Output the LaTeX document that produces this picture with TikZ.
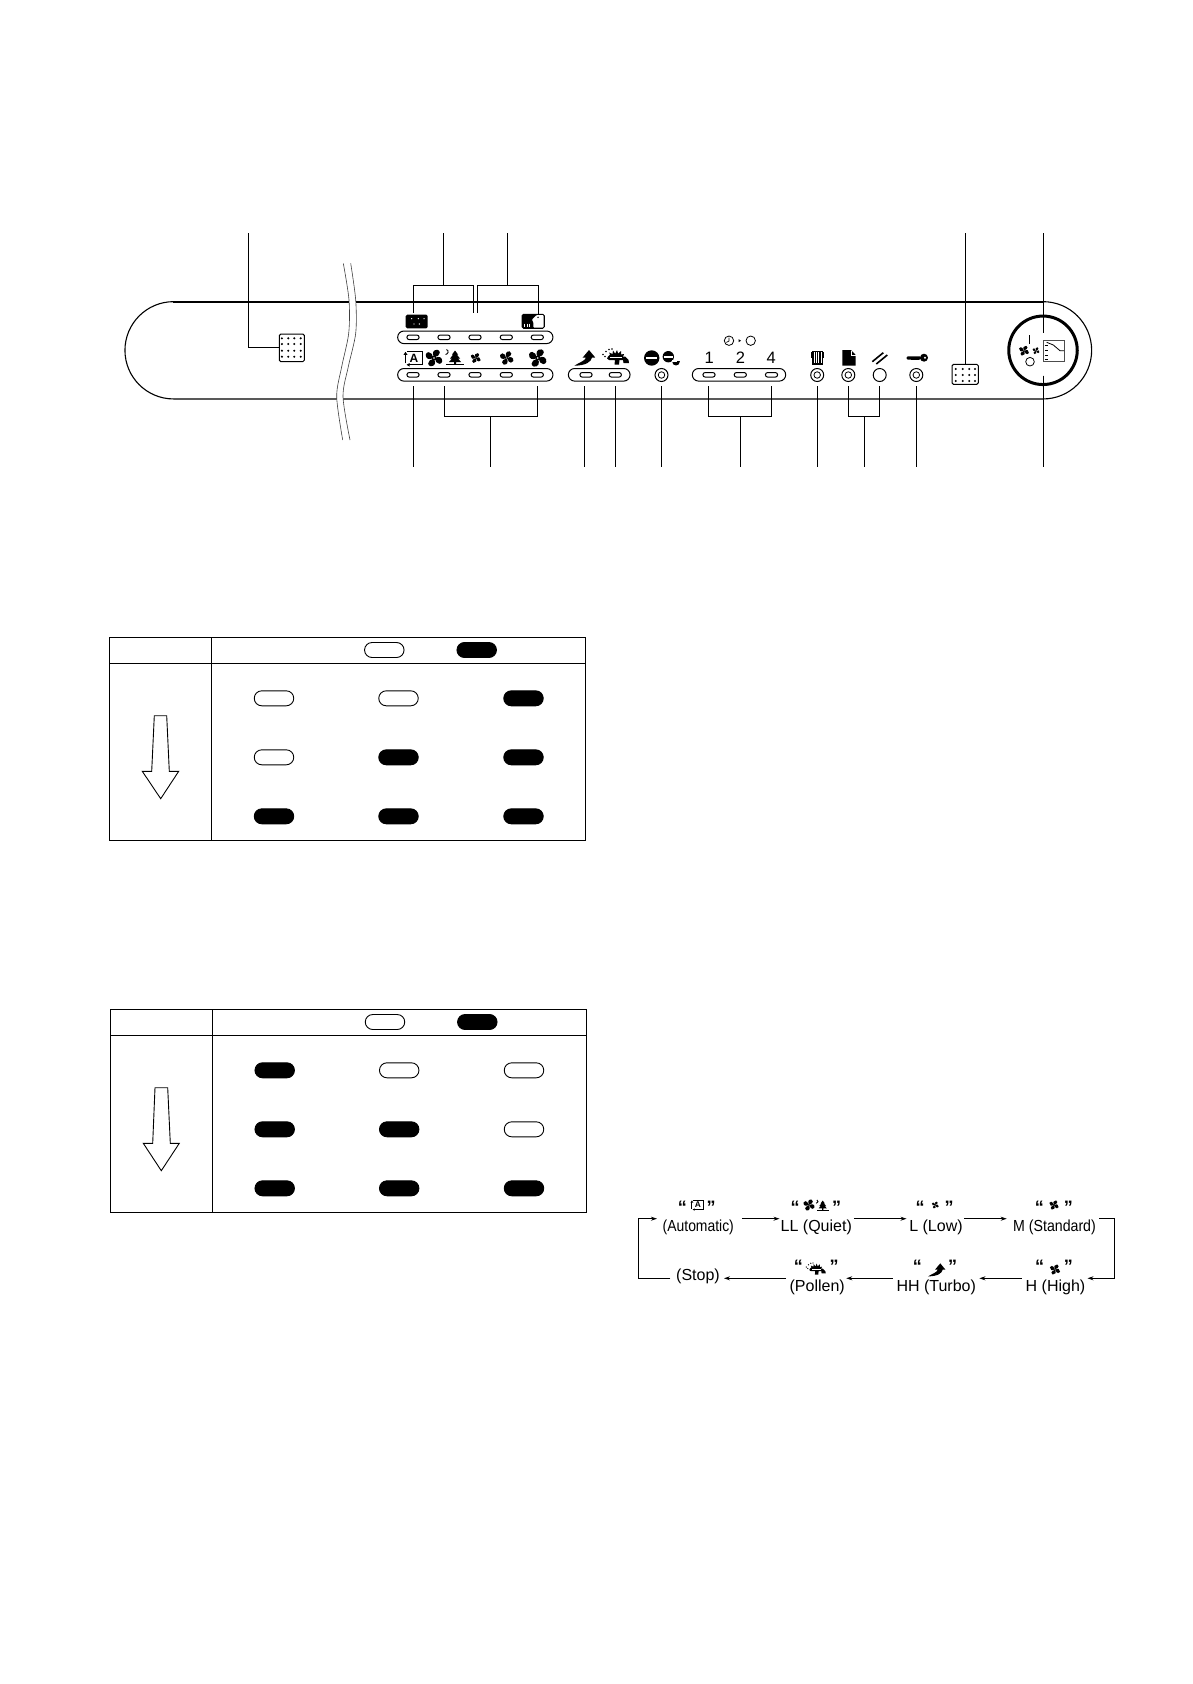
\documentclass[tikz,border=0pt]{standalone}
\usepackage{fontspec}
\setmainfont{Liberation Sans}
\usetikzlibrary{shapes.misc,arrows.meta}
\tikzset{
  leader/.style={draw=black,line width=1pt},
  panelled/.style={rounded rectangle,draw=black,line width=1pt,fill=white,minimum width=12.2pt,minimum height=4.6pt,inner sep=0pt},
  ledstrip/.style={rounded rectangle,draw=black,line width=1pt,fill=white,minimum height=12.6pt,inner sep=0pt},
  statewhite/.style={rounded rectangle,draw=black,line width=0.9pt,fill=white,minimum width=39.5pt,minimum height=15pt,inner sep=0pt},
  stateblack/.style={rounded rectangle,draw=black,line width=0.9pt,fill=black,minimum width=39.5pt,minimum height=15pt,inner sep=0pt},
  ringled/.style={circle,draw=black,line width=1pt,minimum size=13pt,inner sep=0pt},
  flowtext/.style={font=\fontsize{16pt}{16pt}\selectfont,inner sep=0pt,anchor=base},
  quotetext/.style={font=\bfseries\fontsize{18pt}{18pt}\selectfont,inner sep=0pt,anchor=base},
  flowline/.style={draw=black,line width=0.9pt,-{Stealth[length=6pt,width=4pt]}},
  gridbox/.style={draw=black,line width=1pt,rounded corners=1.5pt,fill=white},
}
\newcommand{\fanicon}[3]{\begin{scope}[shift={(#1,#2)},scale=#3]
  \foreach \a in {10,100,190,280}{
    \fill[black,rotate=\a] (0.08,-0.08) .. controls (-0.3,-0.6) and (0.15,-1.15) .. (0.65,-0.95)
      .. controls (1.0,-0.75) and (0.85,-0.3) .. (0.6,-0.22) .. controls (0.45,-0.18) and (0.3,-0.12) .. (0.08,-0.08) -- cycle;}
  \fill[black] (0,0) circle (0.3);
  \fill[white] (0,0) circle (0.1);
\end{scope}}
\newcommand{\treeicon}[3]{\begin{scope}[shift={(#1,#2)},scale=#3]
  \fill[black] (0,-6.5) -- (3,-2.5) -- (1.8,-2.5) -- (5,1.5) -- (3,1.5) -- (6,5) -- (1,5) -- (1,7) -- (-1,7) -- (-1,5) -- (-6,5) -- (-3,1.5) -- (-5,1.5) -- (-1.8,-2.5) -- (-3,-2.5) -- cycle;
  \fill[black] (-9,7.2) rectangle (9,8.1);
  \draw[black,line width=0.9pt] (-8.5,-7.5) .. controls (-6,-6.5) and (-6.5,-3) .. (-9.5,-2.5);
\end{scope}}
\newcommand{\autoicon}[4]{\begin{scope}[shift={(#1,#2)},scale=#3]
  \draw[black,line width=1pt] (-6.5,-6.5) -- (8.5,-6.5) -- (8.5,6.5) -- (-5,6.5);
  \draw[black,line width=1pt] (-8,5) -- (-8,-4.5);
  \fill[black] (-8,-6.5) -- (-6,-3.5) -- (-10,-3.5) -- cycle;
  \fill[black] (-7,6.5) -- (-4,4.8) -- (-4,8.2) -- cycle;
  \node[inner sep=0pt,transform shape,font=\bfseries\fontsize{12pt}{12pt}\selectfont] (#4) at (0.5,0) {A};
\end{scope}}
\newcommand{\turboicon}[3]{\begin{scope}[shift={(#1,#2)},scale=#3]
  \fill[black] (4.3,-8) -- (10.5,-0.5) -- (7.3,-0.5) .. controls (6.3,4) and (1.3,7.5) .. (-10.4,7.7)
    .. controls (-4.7,4) and (0.3,3) .. (1.3,-0.5) -- (-2,-0.5) -- cycle;
\end{scope}}
\newcommand{\pollenicon}[3]{\begin{scope}[shift={(#1,#2)},scale=#3]
  \fill[black] (-8,-1) -- (-6,-3) -- (-7,-5) -- (-3.5,-3.5) -- (-3,-7) -- (-0.8,-3.8) -- (1,-7.5) -- (2.2,-3.8) -- (5,-6.5) -- (5.2,-3) -- (8,-3.5) -- (7,-0.5) -- (9,-1) -- (12.5,2.5) -- (13,5.5) -- (7.5,5.5) -- (7,2.5) -- (3.5,2.5) -- (3,7) -- (-1.5,7) -- (-1,2.5) -- (-7,2.5) -- (-9,1) -- cycle;
  \fill[white] (-6,-0.3) rectangle (6,0.7);
  \foreach \p in {(-13,-3),(-10,-6),(-7,-8),(-11,-1),(-4,-8.5)} \fill[black] \p circle (0.9);
\end{scope}}
\begin{document}
\begin{tikzpicture}[x=1pt,y=-1pt]
\useasboundingbox (0,0) rectangle (1193,1684);
\fill[white] (0,0) rectangle (1193,1684);

% panel
\node[rounded rectangle,draw=black,line width=1.1pt,minimum width=966.7pt,minimum height=97.3pt,inner sep=0pt] (panel) at (608.3,350.3) {};
\draw[black,line width=1.7pt] (173,301.7) -- (1043,301.7);
% break
\fill[white] plot[smooth] coordinates {(343.3,263.3)(349,300)(348.7,333.3)(341.7,366.7)(336.7,396.7)(342.7,440)} -- plot[smooth] coordinates {(350,440)(343,396.7)(348.3,366.7)(355.7,333.3)(355.7,300)(350.7,263.3)} -- cycle;
\draw[black!75,line width=0.6pt] plot[smooth] coordinates {(343.3,263.3)(349,300)(348.7,333.3)(341.7,366.7)(336.7,396.7)(342.7,440)};
\draw[black!75,line width=0.6pt] plot[smooth] coordinates {(350.7,263.3)(355.7,300)(355.7,333.3)(348.3,366.7)(343,396.7)(350,440)};

% leader helper coordinates
\coordinate (topend) at (0,233.3);
\coordinate (botstart) at (0,386);
\coordinate (botbar) at (0,416.3);
\coordinate (botend) at (0,467.3);
\coordinate (topbar) at (0,285.3);
\coordinate (topdrop) at (0,313);

% LED strips
\node[ledstrip,minimum width=155.3pt] (striptop) at (475.3,337.3) {};
\node[ledstrip,minimum width=155.3pt] (stripfan) at (475.3,374.8) {};
\node[ledstrip,minimum width=61.7pt] (stripturbo) at (599.2,374.8) {};
\node[ledstrip,minimum width=93.4pt] (striptimer) at (739,374.8) {};
\foreach \n/\x in {1/413,2/444,3/475,4/506.3,5/537.3}{
  \node[panelled] (t\n) at (\x,337.3) {};
  \node[panelled] (b\n) at (\x,374.8) {};
}
\node[panelled] (turbo) at (586,374.8) {};
\node[panelled] (pollen) at (615.3,374.8) {};
\node[panelled] (tone) at (709,374.8) {};
\node[panelled] (ttwo) at (740.3,374.8) {};
\node[panelled] (tfour) at (771.5,374.8) {};
\node[ringled] (rstop) at (661.5,375) {};
\node[ringled,minimum size=6.5pt,line width=0.8pt] (rstopi) at (rstop.center) {};
\node[ringled] (rfilter) at (817.2,375) {};
\node[ringled,minimum size=6.5pt,line width=0.8pt] (rfilteri) at (rfilter.center) {};
\node[ringled] (rdoc) at (848.3,375) {};
\node[ringled,minimum size=6.5pt,line width=0.8pt] (rdoci) at (rdoc.center) {};
\node[ringled] (rreset) at (879.7,375) {};
\node[ringled] (rkey) at (916.3,375) {};
\node[ringled,minimum size=6.5pt,line width=0.8pt] (rkeyi) at (rkey.center) {};

% digits
\node[inner sep=0pt,font=\fontsize{16.5pt}{17pt}\selectfont] (done) at (709.2,358) {1};
\node[inner sep=0pt,font=\fontsize{16.5pt}{17pt}\selectfont] (dtwo) at (740.5,358) {2};
\node[inner sep=0pt,font=\fontsize{16.5pt}{17pt}\selectfont] (dfour) at (771.2,358) {4};

% grids
\draw[gridbox] (279.3,334) rectangle (304.3,361.7);
\foreach \x in {281.9,288.3,294.3,300.7}\foreach \y in {338.3,344,350.7,356.7}
  \fill[black] (\x,\y) circle (1.15);
\draw[gridbox] (952,364.3) rectangle (978.3,384.3);
\foreach \x in {955.7,962.7,969.3,975}\foreach \y in {369,375,381}
  \fill[black] (\x,\y) circle (1.15);

% leaders above
\coordinate (gridtl) at (279.3,347.3);
\draw[leader] (248.3,233.3) -- (248.3,347.3) -- (gridtl);
\draw[leader] (443.3,233.3) -- (443.3,285.3);
\draw[leader] (t1 |- topdrop) -- (t1 |- topbar) -- (473.3,285.3) -- (473.3,313);
\draw[leader] (507.3,233.3) -- (507.3,285.3);
\draw[leader] (477.3,313) -- (477.3,285.3) -- (538.3,285.3) -- (538.3,313.5);
\draw[leader] (965.3,233.3) -- (965.3,364.3);
\draw[leader] (1043.3,233.3) -- (1043.3,332.7);
\draw[leader] (1043.3,375.7) -- (1043.3,467.3);

% leaders below
\draw[leader] (b1 |- botstart) -- (b1 |- botend);
\draw[leader] (b2 |- botstart) -- (b2 |- botbar) -- (b5 |- botbar) -- (b5 |- botstart);
\draw[leader] (490.3,416.3) -- (490.3,467.3);
\draw[leader] (584.3,386) -- (584.3,467.3);
\draw[leader] (pollen |- botstart) -- (pollen |- botend);
\draw[leader] (rstop |- botstart) -- (rstop |- botend);
\draw[leader] (708.3,386) -- (708.3,416.3) -- (771.7,416.3) -- (771.7,386);
\draw[leader] (ttwo |- botbar) -- (ttwo |- botend);
\draw[leader] (rfilter |- botstart) -- (rfilter |- botend);
\draw[leader] (rdoc |- botstart) -- (rdoc |- botbar) -- (rreset |- botbar) -- (rreset |- botstart);
\draw[leader] (864.3,416.3) -- (864.3,467.3);
\draw[leader] (rkey |- botstart) -- (rkey |- botend);

% indicator icons, top row
\fill[black,rounded corners=1.5pt] (405.7,314.7) rectangle (427.7,328.3);
\foreach \p in {(411.7,318.7),(418.3,318.7),(424,318.7),(414,324),(419.3,324)}
  \fill[white] \p circle (0.7);
\draw[black,line width=0.9pt,rounded corners=1.5pt,fill=black] (522,314.3) rectangle (544.3,328.3);
\fill[white,rounded corners=0.8pt] (531.7,320) -- (536.7,315) -- (543.5,315) -- (543.5,327.5) -- (533.3,327.5) -- (533.3,321.7) -- cycle;
\fill[black] (538,317.3) circle (0.8);
\foreach \x in {524.5,527,529.5}\draw[white,line width=0.6pt] (\x,323.5) -- (\x,326.5);

% fan row symbols
\autoicon{413.5}{358.3}{1}{autosym}
\fanicon{434}{358}{7.8}
\treeicon{455}{357}{1}
\fanicon{475.7}{358}{4.7}
\fanicon{506.7}{358}{6.3}
\fanicon{537.7}{358}{8.2}
\turboicon{584.7}{358}{1}
\pollenicon{616}{357.5}{1}

% stop symbols
\fill[black] (651.7,358) circle (7.7);
\fill[white] (646,356.8) rectangle (657.4,359.2);
\fill[black] (668.3,356.7) circle (5.7);
\fill[white] (664,355.7) rectangle (672.6,357.7);
\fill[black] (672,360.5) .. controls (672,366.5) and (680,366.5) .. (680,360.5) -- cycle;
\fill[white] (672,360.2) rectangle (677,361.6);

% timer
\draw[black,line width=0.8pt] (729,340.7) circle (4.7);
\draw[black,line width=0.7pt] (729,337.5) -- (729,341) -- (726.3,342.4);
\fill[black] (741,340.7) -- (738.5,339.2) -- (738.5,342.2) -- cycle;
\node[circle,draw=black,line width=0.8pt,minimum size=9.4pt,inner sep=0pt] (timercirc) at (750.7,340.7) {};

% filter icon
\fill[black] (811.8,350.7) rectangle (823.2,365.3);
\fill[black] (811,352) rectangle (824,358);
\foreach \x in {814.3,816.5,818.7,820.9}\draw[white,line width=0.6pt] (\x,352) -- (\x,363);
% document icon
\fill[black] (842.3,350) -- (851,350) -- (855.7,355) -- (855.7,365.7) -- (842.3,365.7) -- cycle;
\draw[white,line width=0.5pt] (851,350.5) -- (851,355) -- (855.5,355);
% reset
\draw[black,line width=1.6pt] (872.3,361.7) -- (883.3,352.7);
\draw[black,line width=1.6pt] (876.3,364) -- (887.3,355);
% key
\fill[black,rounded corners=1pt] (906.7,356.3) rectangle (921,359.5);
\fill[black] (911,358) rectangle (919,360.2);
\fill[black] (924,357.7) circle (4);
\fill[white] (925,357.7) circle (1.1);

% master switch
\node[circle,draw=black,line width=3pt,minimum size=68.5pt,inner sep=0pt] (mainring) at (1043,350.3) {};
\draw[leader] (1043.3,300) -- (1043.3,332.7);
\draw[leader] (1043.3,375.7) -- (1043.3,400);
\fanicon{1024}{350.7}{4.7}
\fanicon{1036}{350.7}{3.2}
\draw[black,line width=0.9pt] (1029.3,335) -- (1029.3,344);
\node[circle,draw=black,line width=0.8pt,minimum size=8.6pt,inner sep=0pt] (maincirc) at (1030,361.7) {};
\draw[black!70,line width=1pt] (1043.7,340.7) rectangle (1064.7,361.7);
\draw[black,line width=0.8pt] (1046.7,342.3) -- (1053.3,345) -- (1060,350.7) -- (1064,350.7);
\foreach \y in {345,350,355,359.5}\draw[black,line width=0.7pt] (1044.5,\y) -- (1048,\y);

% table 1
\draw[black,line width=1.1pt] (109.3,637.3) rectangle (585.7,840.3);
\draw[black,line width=1.1pt] (109.3,663.3) -- (585.7,663.3);
\draw[black,line width=1.1pt] (211.3,637.3) -- (211.3,840.3);
\draw[black,line width=0.9pt,fill=white] (154.3,715.7) -- (166.7,715.7) -- (169.3,771.3) -- (178.7,771.3) -- (160.7,798.7) -- (142.3,771.3) -- (151.7,771.3) -- cycle;
\node[statewhite] (aw) at (384.3,650) {};
\node[stateblack] (ab) at (476.7,650) {};
\node[statewhite] (a11) at (274,698.3) {};
\node[statewhite] (a12) at (398.5,698.3) {};
\node[stateblack] (a13) at (523.5,698.3) {};
\node[statewhite] (a21) at (274,757.3) {};
\node[stateblack] (a22) at (398.5,757.3) {};
\node[stateblack] (a23) at (523.5,757.3) {};
\node[stateblack] (a31) at (274,816.3) {};
\node[stateblack] (a32) at (398.5,816.3) {};
\node[stateblack] (a33) at (523.5,816.3) {};

% table 2
\draw[black,line width=1.1pt] (110.3,1009.3) rectangle (586.7,1212.3);
\draw[black,line width=1.1pt] (110.3,1035.3) -- (586.7,1035.3);
\draw[black,line width=1.1pt] (212.3,1009.3) -- (212.3,1212.3);
\draw[black,line width=0.9pt,fill=white] (155,1087.7) -- (167.7,1087.7) -- (170.3,1143.3) -- (179.3,1143.3) -- (161.3,1170.7) -- (143.3,1143.3) -- (152.7,1143.3) -- cycle;
\node[statewhite] (bw) at (385,1022) {};
\node[stateblack] (bb) at (477.3,1022) {};
\node[stateblack] (b11) at (274.7,1070.3) {};
\node[statewhite] (b12) at (399.2,1070.3) {};
\node[statewhite] (b13) at (524,1070.3) {};
\node[stateblack] (b21) at (274.7,1129.3) {};
\node[stateblack] (b22) at (399.2,1129.3) {};
\node[statewhite] (b23) at (524,1129.3) {};
\node[stateblack] (b31) at (274.7,1188.3) {};
\node[stateblack] (b32) at (399.2,1188.3) {};
\node[stateblack] (b33) at (524,1188.3) {};

% flow: texts
\node[flowtext] (fauto) at (698.3,1231.7) {\scalebox{0.87}[1]{(Automatic)}};
\node[flowtext] (fll) at (816.3,1231.7) {LL (Quiet)};
\node[flowtext] (flow) at (936,1231.7) {L (Low)};
\node[flowtext] (fm) at (1054.5,1231.7) {\scalebox{0.885}[1]{M (Standard)}};
\node[flowtext] (fstop) at (698,1280.7) {(Stop)};
\node[flowtext] (fpollen) at (817.2,1291) {(Pollen)};
\node[flowtext] (fhh) at (936.2,1291) {HH (Turbo)};
\node[flowtext] (fh) at (1055.5,1291) {H (High)};

% flow: quotes
\foreach \nm/\x/\y/\t in {qa/682.3/1213.8/“,qb/711/1213.8/”,qc/795/1213.8/“,qd/836.7/1213.8/”,qe/920/1213.8/“,qf/949/1213.8/”,qg/1039.3/1213.8/“,qh/1068.3/1213.8/”,
   qi/798.3/1272.8/“,qj/834/1272.8/”,qk/917.3/1272.8/“,ql/952.7/1272.8/”,qm/1039.7/1272.8/“,qn/1068.3/1272.8/”}
  \node[quotetext] (\nm) at (\x,\y) {\t};

% flow: icons
\autoicon{697.5}{1205}{0.7}{autoflow}
\fanicon{809}{1205}{5.2}
\treeicon{822.7}{1205}{0.68}
\fanicon{935.3}{1205}{3.2}
\fanicon{1054}{1205}{4.4}
\pollenicon{816}{1269.3}{0.75}
\turboicon{936.7}{1270}{0.83}
\fanicon{1055}{1269.5}{4.8}

% flow: connectors
\coordinate (crnr) at (1114.7,1250);
\coordinate (crnl) at (638.3,1250);
\coordinate (s1) at ([xshift=7.7pt,yshift=13pt]fauto.base east);
\coordinate (e1) at ([xshift=-1pt,yshift=13pt]fll.base west);
\coordinate (s2) at ([xshift=1.7pt,yshift=13pt]fll.base east);
\coordinate (e2) at ([xshift=-2.6pt,yshift=13pt]flow.base west);
\coordinate (s3) at ([xshift=1.6pt,yshift=13pt]flow.base east);
\coordinate (e3) at ([xshift=-6.3pt,yshift=13pt]fm.base west);
\coordinate (s4) at ([xshift=3.3pt,yshift=13pt]fm.base east);
\coordinate (e4) at ([xshift=2pt,yshift=12.7pt]fh.base east);
\coordinate (s5) at ([xshift=-4pt,yshift=12.7pt]fh.base west);
\coordinate (e5) at ([xshift=3.3pt,yshift=12.7pt]fhh.base east);
\coordinate (s6) at ([xshift=-3.4pt,yshift=12.7pt]fhh.base west);
\coordinate (e6) at ([xshift=1.3pt,yshift=12.7pt]fpollen.base east);
\coordinate (s7) at ([xshift=-3.3pt,yshift=12.7pt]fpollen.base west);
\coordinate (e7) at ([xshift=4pt,yshift=2.4pt]fstop.base east);
\coordinate (s8) at ([xshift=-5.7pt,yshift=2.4pt]fstop.base west);
\coordinate (e8) at ([xshift=-5.6pt,yshift=13pt]fauto.base west);
\draw[flowline] (s1) -- (e1);
\draw[flowline] (s2) -- (e2);
\draw[flowline] (s3) -- (e3);
\draw[flowline] (s4) -| (crnr) |- (e4);
\draw[flowline] (s5) -- (e5);
\draw[flowline] (s6) -- (e6);
\draw[flowline] (s7) -- (e7);
\draw[flowline] (s8) -| (crnl) |- (e8);
\end{tikzpicture}
\end{document}
